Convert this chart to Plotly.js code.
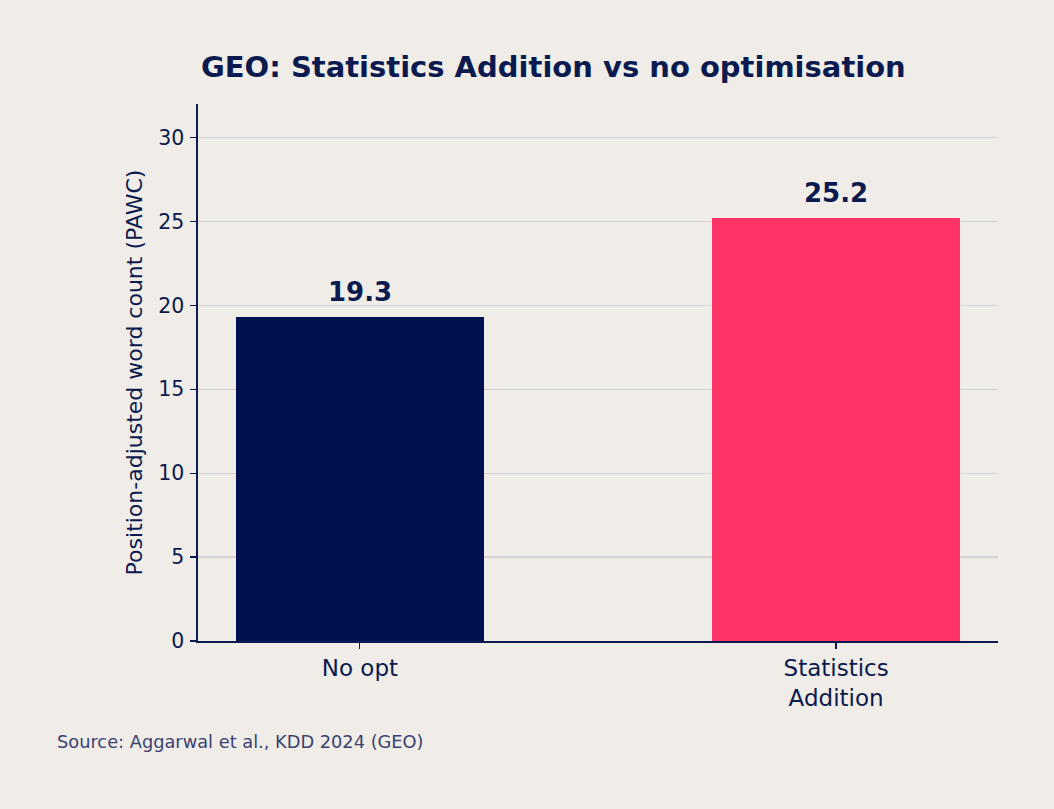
<!DOCTYPE html>
<html>
<head>
<meta charset="utf-8">
<script src="https://cdn.plot.ly/plotly-3.0.1.min.js"></script>
<style>html,body{margin:0;padding:0;background:#f0ede8;}</style>
</head>
<body>
<div id="chart" style="width:1054px;height:809px;"></div>
<script>
const categories = ["No opt", "Statistics<br>Addition"];
const values = [19.3, 25.2];
const barColors = ["#001150", "#ff3366"];
const yTicks = [0, 5, 10, 15, 20, 25, 30];

const navy = "#0b1a4f";
const font = "DejaVu Sans, sans-serif";

const trace = {
  type: "bar",
  x: [0, 1],
  y: values,
  width: 0.52,
  marker: {color: barColors, line: {width: 0}},
  hoverinfo: "skip"
};

const annotations = values.map((v, i) => ({
  x: i, y: v, xref: "x", yref: "y",
  text: "<b>" + v.toFixed(1) + "</b>",
  showarrow: false, yanchor: "bottom", yshift: 8,
  font: {family: font, size: 26, color: navy}
}));
annotations.push({
  xref: "paper", yref: "paper", x: -0.1785, y: -0.188,
  xanchor: "left", yanchor: "middle", showarrow: false,
  text: "Source: Aggarwal et al., KDD 2024 (GEO)",
  font: {family: font, size: 17.8, color: "#3a4270"}
});

const layout = {
  width: 1054, height: 809,
  paper_bgcolor: "#f0ede8", plot_bgcolor: "#f0ede8",
  margin: {l: 198, r: 56, t: 104, b: 168},
  showlegend: false,
  title: {text: "<b>GEO: Statistics Addition vs no optimisation</b>",
          font: {family: font, size: 29, color: navy},
          x: 0.525, xanchor: "center", y: 0.917, yanchor: "middle"},
  xaxis: {
    range: [-0.34, 1.34],
    tickmode: "array", tickvals: [0, 1], ticktext: categories,
    ticks: "outside", ticklen: 6, tickwidth: 1.2, tickcolor: navy,
    showline: true, linecolor: navy, linewidth: 1.6,
    showgrid: false, zeroline: false,
    tickfont: {family: font, size: 23, color: navy},
    fixedrange: true
  },
  yaxis: {
    range: [0, 32],
    tickmode: "array", tickvals: yTicks,
    ticks: "outside", ticklen: 6, tickwidth: 1.2, tickcolor: navy,
    ticklabelstandoff: 2,
    showline: true, linecolor: navy, linewidth: 1.6,
    showgrid: true, gridcolor: "#d0d2d4", gridwidth: 1.2,
    zeroline: false,
    tickfont: {family: font, size: 20.5, color: navy},
    title: {text: "Position-adjusted word count (PAWC)", standoff: 9,
            font: {family: font, size: 22, color: navy}},
    fixedrange: true
  },
  annotations: annotations,
  bargap: 0
};

Plotly.newPlot("chart", [trace], layout, {displayModeBar: false, staticPlot: true});
</script>
</body>
</html>
